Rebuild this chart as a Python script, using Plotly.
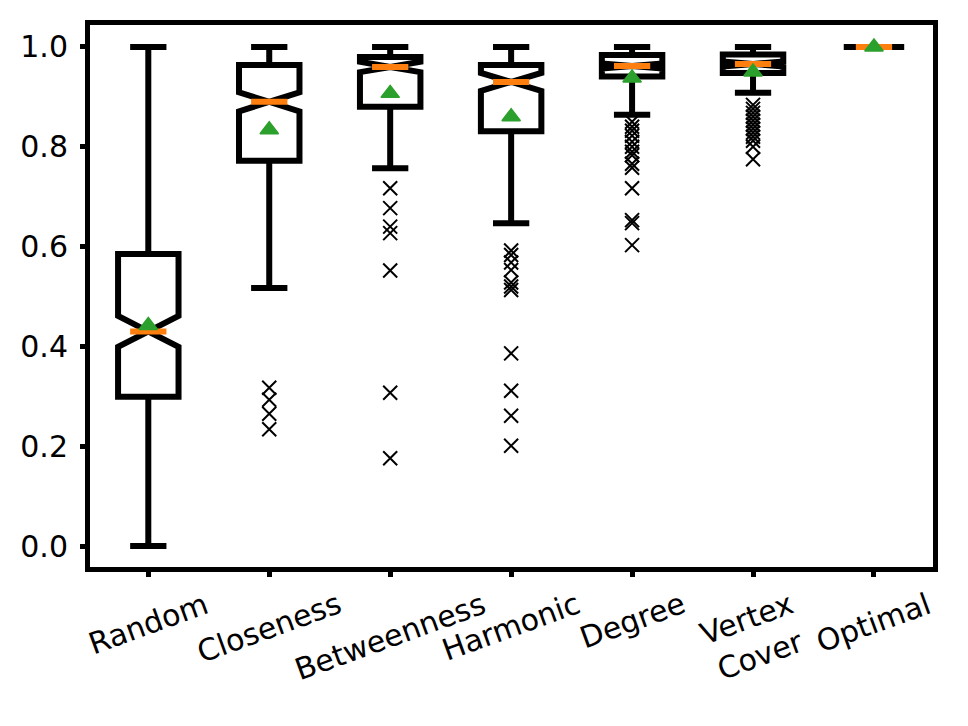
import plotly.graph_objects as go

categories = ["Random", "Closeness", "Betweenness", "Harmonic", "Degree", "Vertex<br>Cover", "Optimal"]
positions = [1, 2, 3, 4, 5, 6, 7]

q1 = [0.299, 0.772, 0.880, 0.831, 0.941, 0.948, 1.0]
median = [0.430, 0.890, 0.960, 0.930, 0.962, 0.966, 1.0]
q3 = [0.585, 0.964, 0.980, 0.964, 0.984, 0.985, 1.0]
lower_whisker = [0.0, 0.517, 0.757, 0.647, 0.864, 0.908, 1.0]
upper_whisker = [1.0, 1.0, 1.0, 1.0, 1.0, 1.0, 1.0]
means = [0.442, 0.834, 0.907, 0.860, 0.938, 0.950, 1.0]
notch_span = [0.031, 0.019, 0.0105, 0.018, 0.005, 0.005, 0.0]

outliers = [
    [],
    [0.317, 0.293, 0.265, 0.234],
    [0.717, 0.677, 0.640, 0.627, 0.552, 0.307, 0.176],
    [0.592, 0.583, 0.568, 0.553, 0.528, 0.520, 0.513, 0.386, 0.311, 0.261, 0.201],
    [0.850, 0.840, 0.832, 0.822, 0.810, 0.800, 0.790, 0.783, 0.766, 0.758, 0.717, 0.653, 0.647, 0.603],
    [0.884, 0.876, 0.868, 0.860, 0.852, 0.844, 0.836, 0.828, 0.820, 0.812, 0.800, 0.775],
    [],
]

BOX_WIDTH = 0.5
MED_HALF = 0.15
FONT = "DejaVu Sans"
FSIZE = 30

fig = go.Figure()

fig.add_trace(go.Box(
    x=positions,
    q1=q1, median=median, q3=q3,
    lowerfence=lower_whisker, upperfence=upper_whisker,
    notchspan=notch_span,
    notched=True, notchwidth=0.5,
    width=BOX_WIDTH,
    whiskerwidth=0.6,
    boxpoints=False,
    line=dict(color="black", width=6),
    fillcolor="rgba(0,0,0,0)",
    showlegend=False,
    hoverinfo="skip",
))

# orange median lines
mx, my = [], []
for p, m in zip(positions, median):
    mx += [p - MED_HALF, p + MED_HALF, None]
    my += [m, m, None]
fig.add_trace(go.Scatter(
    x=mx, y=my, mode="lines",
    line=dict(color="#ff7f0e", width=6),
    showlegend=False, hoverinfo="skip",
))

# outliers
ox, oy = [], []
for p, vals in zip(positions, outliers):
    ox += [p] * len(vals)
    oy += vals
fig.add_trace(go.Scatter(
    x=ox, y=oy, mode="markers",
    marker=dict(symbol="x-thin", size=14, color="black",
                line=dict(color="black", width=2)),
    showlegend=False, hoverinfo="skip",
))

# means
fig.add_trace(go.Scatter(
    x=positions, y=means, mode="markers",
    marker=dict(symbol="triangle-up", size=16, color="#2ca02c",
                line=dict(color="#2ca02c", width=1.5)),
    showlegend=False, hoverinfo="skip",
))

annotations = []
for p, c in zip(positions, categories):
    annotations.append(dict(
        x=p, xref="x", y=0, yref="paper",
        text=c, showarrow=False, textangle=-20,
        xanchor="center", yanchor="top", yshift=-16,
        font=dict(family=FONT, size=FSIZE, color="black"),
        align="center",
    ))

# page body has an 8px margin, so the figure is drawn 8px smaller and offset
fig.update_layout(
    width=960, height=718,
    margin=dict(l=82, r=35, t=17, b=159),
    paper_bgcolor="white", plot_bgcolor="white",
    font=dict(family=FONT, size=FSIZE, color="black"),
    annotations=annotations,
    showlegend=False,
)
fig.update_xaxes(
    range=[0.518, 7.488],
    tickvals=positions, showticklabels=False,
    ticks="outside", ticklen=5, tickwidth=5, tickcolor="black",
    showline=True, linewidth=5, linecolor="black", mirror=True,
    showgrid=False, zeroline=False,
)
fig.update_yaxes(
    range=[-0.042, 1.044],
    tickvals=[0.0, 0.2, 0.4, 0.6, 0.8, 1.0],
    ticktext=["0.0", "0.2", "0.4", "0.6", "0.8", "1.0"],
    ticks="outside", ticklen=5, tickwidth=5, tickcolor="black",
    tickfont=dict(family=FONT, size=FSIZE, color="black"),
    ticklabelstandoff=6,
    showline=True, linewidth=5, linecolor="black", mirror=True,
    showgrid=False, zeroline=False,
)

fig.write_html("out.html")
